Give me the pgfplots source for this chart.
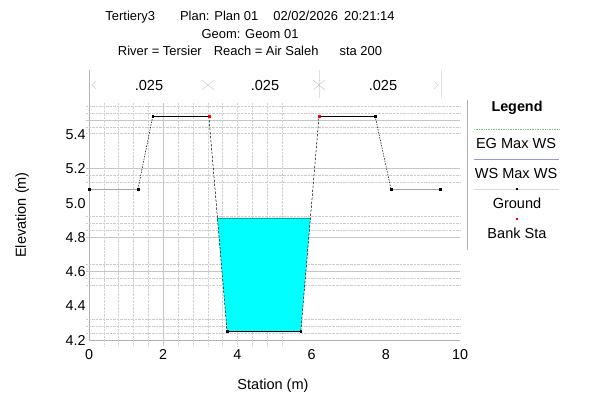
\documentclass[border=0pt]{standalone}
\usepackage{pgfplots}
\pgfplotsset{compat=1.18}
\usepackage{fontspec}
\setmainfont{Liberation Sans}
\definecolor{wscol}{RGB}{150,150,235}
\definecolor{egcol}{RGB}{120,200,120}
\definecolor{water}{RGB}{0,255,255}
\definecolor{wsedge}{RGB}{0,170,170}
\begin{document}
\begin{tikzpicture}[x=1bp,y=1bp,font=\fontsize{14.6}{17}\selectfont]
\useasboundingbox (0,0) rectangle (603,-396);
% titles
\begin{scope}[font=\fontsize{13}{15}\selectfont]
\node[anchor=base] at (250,-20) {Tertiery3\hspace{25bp}Plan: Plan 01\hspace{15bp}02/02/2026\hspace{6bp}20:21:14};
\node[anchor=base] at (250,-38) {Geom: Geom 01};
\node[anchor=base] at (250,-55) {River = Tersier\hspace{12bp}Reach = Air Saleh\hspace{21bp}sta 200};
\end{scope}
% n-value strip
\draw[gray!60, line width=1pt] (89,-70) -- (89,-103);
\draw[gray!25] (319,-70) -- (319,-98);
\draw[gray!25] (441,-70) -- (441,-98);
\node[anchor=base] at (149,-90) {.025};
\node[anchor=base] at (265,-90) {.025};
\node[anchor=base] at (383,-90) {.025};
\draw[gray!35] (96,-81) -- (92,-85) -- (96,-89);
\draw[gray!35] (434,-81) -- (438,-85) -- (434,-89);
\draw[gray!50] (202,-80) -- (214,-90) (202,-90) -- (214,-80);
\draw[gray!50] (313,-80) -- (325,-90) (313,-90) -- (325,-80);
\begin{axis}[
  at={(89bp,-340bp)}, anchor=south west,
  scale only axis, width=371bp, height=237bp,
  xmin=0, xmax=10, ymin=4.2, ymax=5.586,
  axis x line*=bottom, axis y line*=left,
  axis line style={draw=gray!60, line width=1pt},
  xtick={0,2,4,6,8,10},
  ytick={4.2,4.4,4.6,4.8,5.0,5.2,5.4},
  major tick length=0pt,
  yticklabel style={/pgf/number format/.cd, fixed, fixed zerofill, precision=1},
  /pgf/number format/assume math mode=true,
  tick label style={font=\fontsize{14.4}{17}\selectfont},
  xticklabel style={yshift=-6bp},
  clip=false,
]
% grid
\pgfplotsinvokeforeach{5.568,5.527,5.446,5.41,5.165,5.124,4.925,4.884,4.843,4.644,4.563,4.522,4.323,4.282,4.241}{
  \draw[gray!40, densely dotted] (axis cs:-0.08,#1) -- (axis cs:10,#1);
}
\pgfplotsinvokeforeach{5.487,5.206,4.802,4.604}{
  \draw[gray!45] (axis cs:-0.08,#1) -- (axis cs:10,#1);
}
\pgfplotsinvokeforeach{0.4,0.8,1.2,1.6,2.4,2.8,3.2,3.6,4.0,4.4,4.8,5.2}{
  \draw[gray!35, densely dotted] (axis cs:#1,4.165) -- (axis cs:#1,5.586);
}
\draw[gray!45] (axis cs:2,4.165) -- (axis cs:2,5.586);
% water
\addplot[fill=water, draw=none] coordinates {(3.46,4.913) (3.72,4.253) (5.71,4.253) (5.97,4.913)} -- cycle;
\addplot[wsedge, line width=0.6pt] coordinates {(3.46,4.913) (5.97,4.913)};
% ground
\addplot[gray!70, line width=0.6pt] coordinates {(0,5.083) (1.32,5.083)};
\addplot[gray!70, line width=0.6pt] coordinates {(8.14,5.083) (9.46,5.083)};
\addplot[black, line width=0.5pt, dash pattern=on 1.5pt off 1.2pt] coordinates {(1.32,5.083) (1.72,5.51)};
\addplot[black, line width=0.5pt, dash pattern=on 2.5pt off 1.5pt] coordinates {(3.23,5.51) (3.72,4.253)};
\addplot[black, line width=0.5pt, dash pattern=on 2.5pt off 1.5pt] coordinates {(5.71,4.253) (6.2,5.51)};
\addplot[black, line width=0.5pt, dash pattern=on 1.5pt off 1.2pt] coordinates {(7.71,5.51) (8.14,5.083)};
\addplot[black, line width=0.6pt] coordinates {(1.72,5.51) (3.23,5.51)};
\addplot[black, line width=0.6pt] coordinates {(6.2,5.51) (7.71,5.51)};
\addplot[black, line width=0.6pt] coordinates {(3.72,4.253) (5.71,4.253)};
\addplot[only marks, mark=square*, mark size=0.8pt, black] coordinates {(0,5.083) (1.32,5.083) (1.72,5.51) (3.72,4.253) (5.71,4.253) (7.71,5.51) (8.14,5.083) (9.46,5.083)};
\addplot[only marks, mark=square*, mark size=1pt, red] coordinates {(3.23,5.51) (6.2,5.51)};
\end{axis}
% axis labels
\node[rotate=90] at (22,-215) {Elevation (m)};
\node at (273,-386) {Station (m)};
% legend
\draw[gray!60, line width=0.8pt] (467,-100) -- (467,-250);
\node[font=\fontsize{14.4}{17}\selectfont\bfseries] at (517,-108) {Legend};
\draw[egcol, densely dotted, line width=0.7pt] (474,-129) -- (559,-129);
\node at (516,-143) {EG Max WS};
\draw[wscol, line width=0.7pt] (474,-159) -- (559,-159);
\node at (516,-173) {WS Max WS};
\draw[gray!30, line width=0.7pt] (474,-189) -- (559,-189);
\fill[black] (516,-188) rectangle (518,-190);
\node at (517,-203) {Ground};
\fill[red] (516,-218) rectangle (518,-220);
\node at (517,-233) {Bank Sta};
\end{tikzpicture}
\end{document}
